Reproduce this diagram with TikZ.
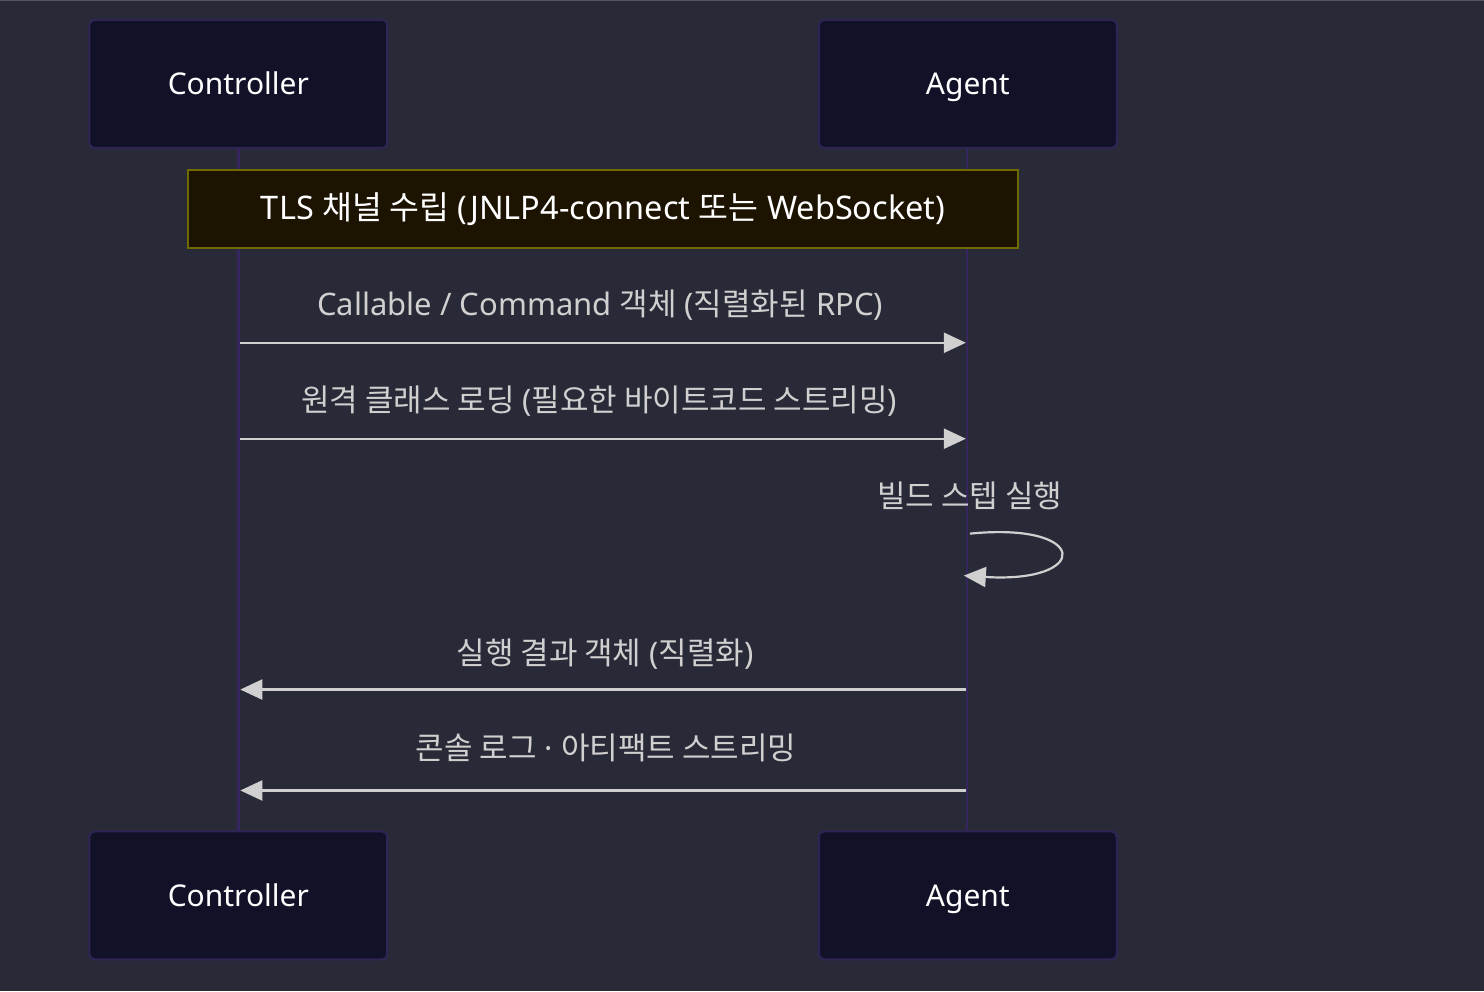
\documentclass[tikz,border=0pt]{standalone}
\usepackage{fontspec}
\setmainfont{Noto Sans}
\newfontfamily\kofont{Noto Sans CJK KR}
\newcommand{\ko}[1]{{\kofont #1}}
\usetikzlibrary{arrows.meta}
\definecolor{bg}{HTML}{292A37}
\definecolor{boxfill}{HTML}{111228}
\definecolor{boxline}{HTML}{2E2456}
\definecolor{lifeline}{HTML}{352660}
\definecolor{notefill}{HTML}{1C1300}
\definecolor{noteline}{HTML}{6E6A00}
\definecolor{msg}{HTML}{D0D0D0}
\tikzset{
  actor/.style={draw=boxline, line width=2pt, fill=boxfill, rounded corners=5pt,
    minimum width=298pt, minimum height=128pt, text=white, font=\fontsize{30}{36}\selectfont,
    inner sep=0pt, text height=24pt, text depth=2pt},
  note/.style={draw=noteline, line width=2pt, fill=notefill, minimum width=830pt, minimum height=78pt,
    text=white, font=\fontsize{32.5}{38}\selectfont, inner sep=0pt, text height=24pt, text depth=2pt},
  lbl/.style={text=msg, font=\fontsize{31}{36}\selectfont, inner sep=0pt, text height=24pt, text depth=2pt},
  life/.style={draw=lifeline, line width=2.5pt},
  msgline/.style={draw=msg, line width=2.4pt, -{Triangle[length=22pt,width=20pt]}}
}
\begin{document}
\begin{tikzpicture}[x=1pt,y=-1pt]
\fill[bg] (0,0) rectangle (1484,992);
\draw[color=bg!80!white, line width=1pt] (0,0.5) -- (1484,0.5);
\useasboundingbox (0,0) rectangle (1484,992);
% lifelines
\coordinate (lcT) at (238,148);
\coordinate (lcB) at (238,832);
\coordinate (laT) at (967,148);
\coordinate (laB) at (967,832);
\draw[life] (lcT) -- (lcB);
\draw[life] (laT) -- (laB);
% actors
\node[actor] (ct) at (238,84) {Controller};
\node[actor] (at) at (968,84) {Agent};
\node[actor] (cb) at (238,896) {Controller};
\node[actor] (ab) at (968,896) {Agent};
% note
\node[note] (n1) at (603,209) {TLS \ko{채널 수립} (JNLP4-connect \ko{또는} WebSocket)};
% messages
\node[lbl] (m1) at (600,305) {Callable / Command \ko{객체} (\ko{직렬화된} RPC)};
\coordinate (m1s) at (240,343); \coordinate (m1e) at (966,343);
\draw[msgline] (m1s) -- (m1e);
\node[lbl] (m2) at (599,401) {\ko{원격 클래스 로딩} (\ko{필요한 바이트코드 스트리밍})};
\coordinate (m2s) at (240,439); \coordinate (m2e) at (966,439);
\draw[msgline] (m2s) -- (m2e);
\node[lbl] (m3) at (970,497) {\ko{빌드 스텝 실행}};
\coordinate (m3s) at (970,534); \coordinate (m3e) at (964,576);
\draw[msgline, line width=2.2pt] (m3s) .. controls (1091,522) and (1091,584) .. (m3e);
\node[lbl] (m4) at (605,654) {\ko{실행 결과 객체} (\ko{직렬화})};
\coordinate (m4s) at (966,690); \coordinate (m4e) at (240,690);
\draw[msgline] (m4s) -- (m4e);
\node[lbl] (m5) at (606,749) {\ko{콘솔 로그} · \ko{아티팩트 스트리밍}};
\coordinate (m5s) at (966,791); \coordinate (m5e) at (240,791);
\draw[msgline] (m5s) -- (m5e);
\end{tikzpicture}
\end{document}
